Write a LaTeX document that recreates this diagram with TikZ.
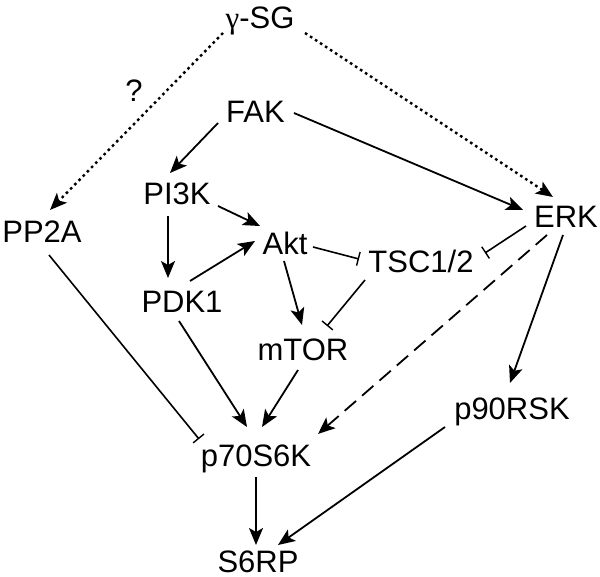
\documentclass[tikz,border=0pt]{standalone}
\usepackage{fontspec}
\setmainfont{Liberation Sans}
\newfontfamily\grk{Liberation Serif}
\usetikzlibrary{arrows.meta,calc}
\tikzset{
  lbl/.style={anchor=base, inner sep=0pt, font=\fontsize{31}{36}\selectfont},
  arr/.style={line width=1.8pt, -{Stealth[length=17pt,width=14pt,inset=4pt]}},
  inh/.style={line width=1.6pt, -{Bar[width=14pt,line width=1.4pt]}},
  dotl/.style={line width=2.4pt, dash pattern=on 2.6pt off 3.4pt},
  dashl/.style={dash pattern=on 15pt off 8pt},
}
\begin{document}
\begin{tikzpicture}[x=1pt,y=-1pt]
\useasboundingbox (0,0) rectangle (600,577);
\node[lbl] (g)    at (260,29)  {{\grk γ}-SG};
\node[lbl] (q)    at (134,102) {?};
\node[lbl] (fak)  at (255.5,123) {FAK};
\node[lbl] (pi3k) at (177,205) {PI3K};
\node[lbl] (pp2a) at (42,243)  {PP2A};
\node[lbl] (akt)  at (285,255) {Akt};
\node[lbl] (tsc)  at (421,273) {TSC1/2};
\node[lbl] (erk)  at (566,228) {ERK};
\node[lbl] (pdk1) at (182,313) {PDK1};
\node[lbl] (mtor) at (303,361) {mTOR};
\node[lbl] (p70)  at (256,466) {p70S6K};
\node[lbl] (p90)  at (512,419) {p90RSK};
\node[lbl] (s6rp) at (258,572) {S6RP};

% dotted from gamma-SG
\draw[arr,dotl] ($(g.base)+(-37,4)$) -- ($(pp2a.base)+(8,-33)$);
\draw[arr,dotl] ($(g.base)+(45,4)$) -- ($(erk.base)+(-13,-31)$);
% activations
\draw[arr] ($(fak.base)+(-37.5,0)$) -- ($(pi3k.base)+(-7,-32)$);
\draw[arr] ($(fak.base)+(38.5,-10)$) -- ($(erk.base)+(-43,-18)$);
\draw[arr] ($(pi3k.base)+(41,1)$) -- ($(akt.base)+(-25,-29)$);
\draw[arr] ($(pi3k.base)+(-9,11)$) -- ($(pdk1.base)+(-14,-35)$);
\draw[arr] ($(pdk1.base)+(8,-32)$) -- ($(akt.base)+(-30,-14)$);
\draw[arr] ($(akt.base)+(-1,6)$) -- ($(mtor.base)+(-1,-36)$);
\draw[arr] ($(erk.base)+(-3,7)$) -- ($(p90.base)+(-2,-36)$);
\draw[arr] ($(pdk1.base)+(-3,8)$) -- ($(p70.base)+(-9,-39)$);
\draw[arr] ($(mtor.base)+(-5,9)$) -- ($(p70.base)+(6,-39)$);
\draw[arr] ($(p70.base)+(0,11)$) -- ($(s6rp.base)+(-2,-27)$);
\draw[arr] ($(p90.base)+(-67,8)$) -- ($(s6rp.base)+(20,-27)$);
\draw[arr,dashl] ($(erk.base)+(-19,7)$) -- ($(p70.base)+(62,-32)$);
% inhibitions
\draw[inh] ($(akt.base)+(28,-8)$) -- ($(tsc.base)+(-62,-14)$);
\draw[inh] ($(erk.base)+(-40,-2)$) -- ($(tsc.base)+(64,-20)$);
\draw[inh] ($(tsc.base)+(-56,7)$) -- ($(mtor.base)+(24,-35)$);
\draw[inh] ($(pp2a.base)+(7,12)$) -- ($(p70.base)+(-57,-27)$);
\end{tikzpicture}
\end{document}
